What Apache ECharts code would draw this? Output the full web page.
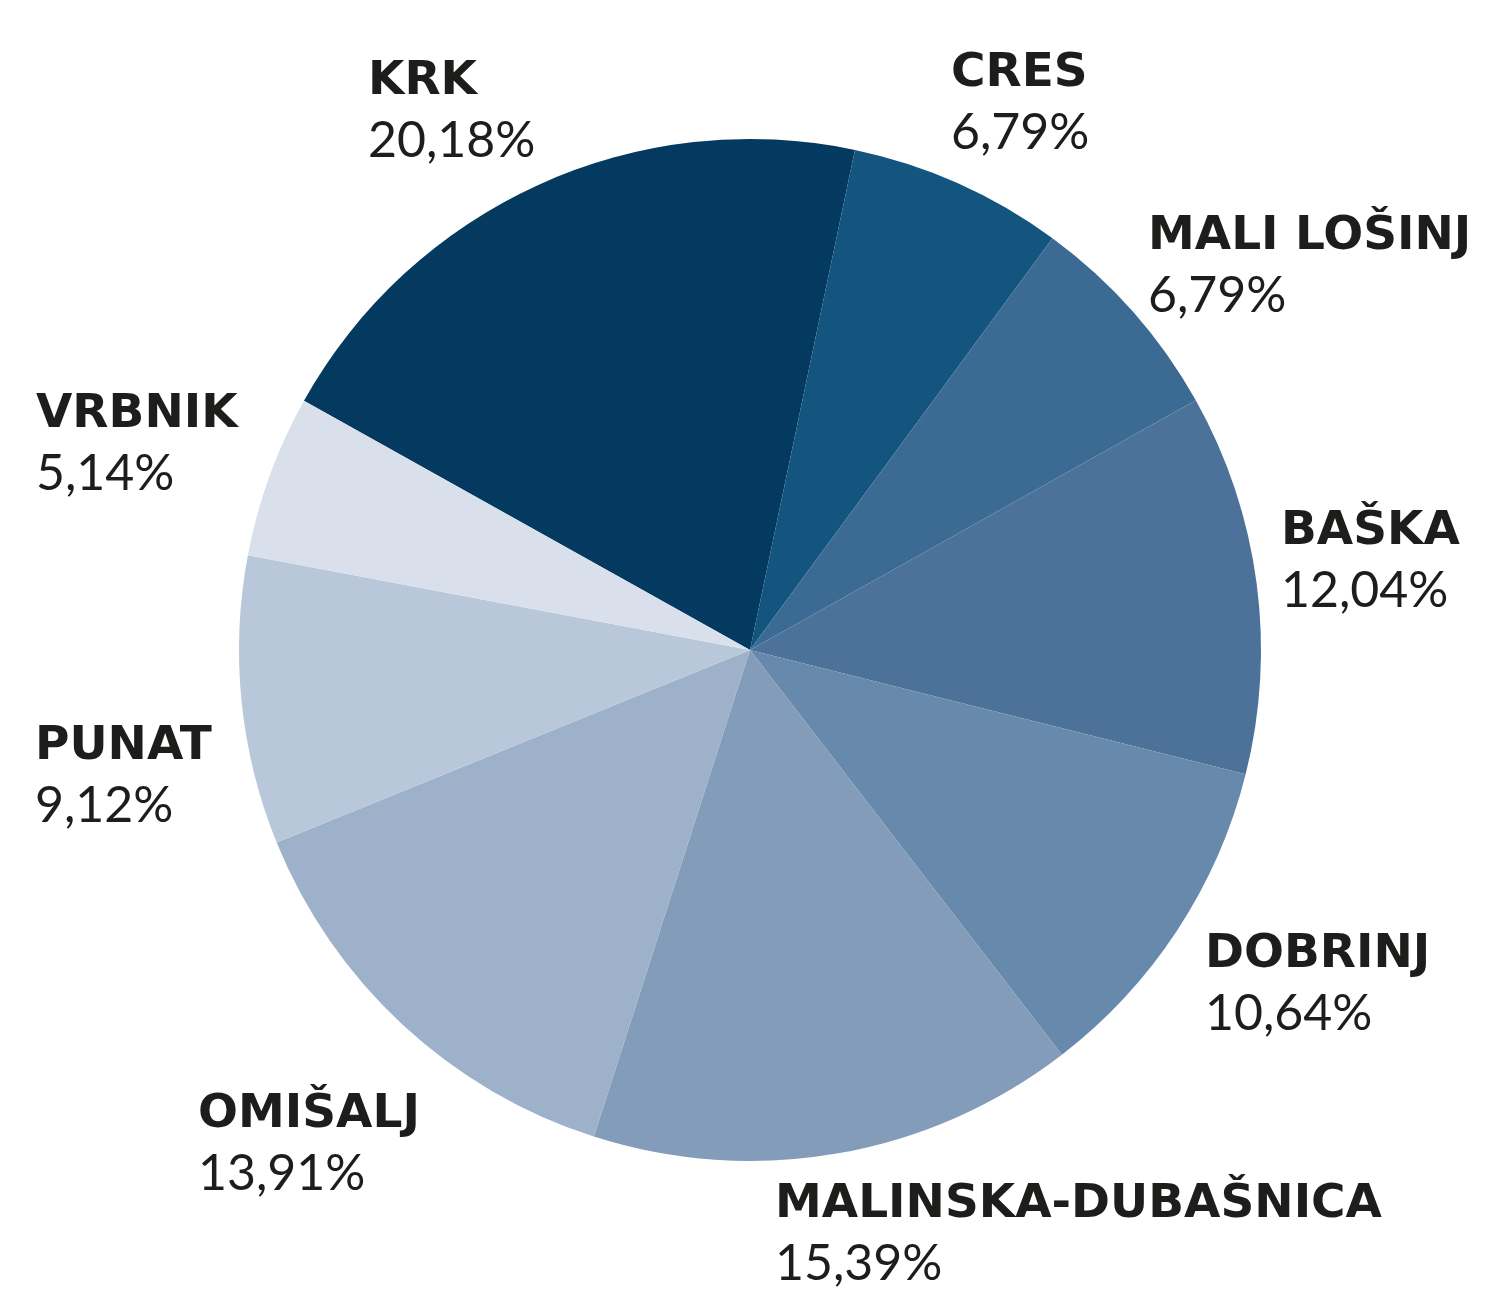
<!DOCTYPE html>
<html>
<head>
<meta charset="utf-8">
<title>Pie</title>
<script src="https://cdn.jsdelivr.net/npm/echarts@6/dist/echarts.min.js"></script>
<style>
  html, body { margin: 0; padding: 0; background: #fff; }
  #chart { width: 1500px; height: 1301px; }
</style>
</head>
<body>
<div id="chart"></div>
<script>
// podaci
var names = ["KRK", "CRES", "MALI LOŠINJ", "BAŠKA", "DOBRINJ", "MALINSKA-DUBAŠNICA", "OMIŠALJ", "PUNAT", "VRBNIK"];
var shares = [20.18, 6.79, 6.79, 12.04, 10.64, 15.39, 13.91, 9.12, 5.14];
var colors = ["#043960", "#13557f", "#3b6a93", "#4c7299", "#6789ab", "#839cba", "#9db1ca", "#b9c7db", "#d9dfeb"];

// pozicije natpisa (gornji lijevi kut)
var labelPos = [
  [368, 52], [951, 44], [1148, 207], [1281, 502], [1205, 925],
  [775, 1175], [198, 1085], [35, 717], [36, 385]
];

var chart = echarts.init(document.getElementById("chart"));

var option = {
  animation: false,
  series: [
    {
      type: "pie",
      center: [750, 650],
      radius: 511,
      startAngle: 150.8,
      clockwise: true,
      data: names.map(function (n, i) {
        return { name: n, value: shares[i], itemStyle: { color: colors[i] } };
      }),
      itemStyle: { borderWidth: 0 },
      label: {
        show: true,
        position: "outside",
        overflow: "none",
        formatter: function (p) {
          return "{n|" + p.name + "}\n{p|" + p.value.toFixed(2).replace(".", ",") + "%}";
        },
        rich: {
          n: { fontFamily: "DejaVu Sans", fontWeight: "bold", fontSize: 47, lineHeight: 60, color: "#1d1d1b" },
          p: { fontFamily: "Lato", fontWeight: "normal", fontSize: 50, lineHeight: 58, color: "#1d1d1b" }
        }
      },
      labelLine: { show: false },
      labelLayout: function (params) {
        var pos = labelPos[params.dataIndex];
        return { x: pos[0], y: pos[1], align: "left", verticalAlign: "top" };
      }
    }
  ]
};

option && chart.setOption(option);
</script>
</body>
</html>
